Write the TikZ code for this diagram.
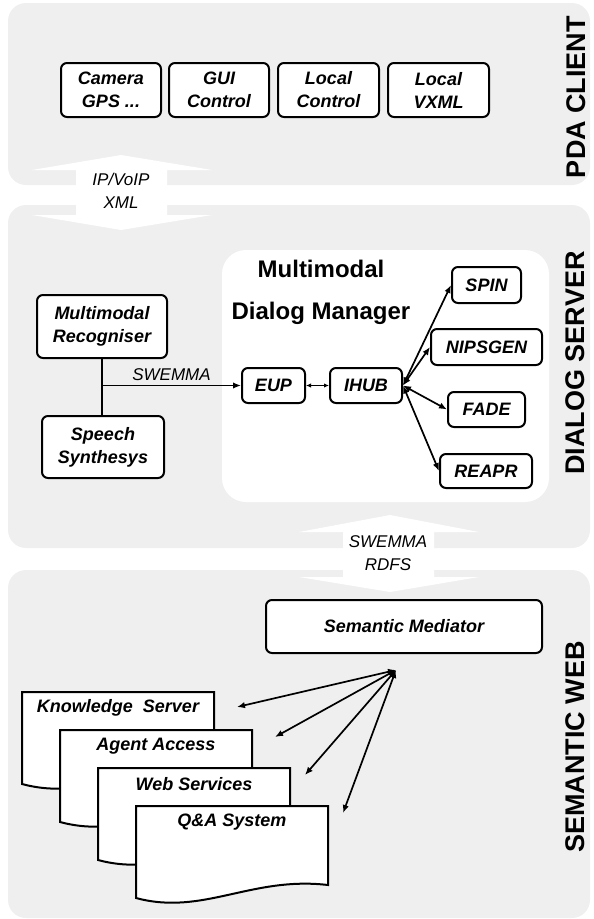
\documentclass[tikz,border=0pt]{standalone}
\usepackage{fontspec}
\setmainfont{Liberation Sans}
\usetikzlibrary{arrows.meta}
\definecolor{panelgray}{RGB}{239,239,239}

\begin{document}
\begin{tikzpicture}[x=1pt, y=-1pt, >={Latex[length=8pt, width=6.5pt]},
	tag/.style={font=\bfseries\itshape\fontsize{18}{23}\selectfont, align=center},
	unit/.style={tag, draw, line width=2pt, rounded corners=6pt, fill=white, inner sep=0pt},
	layer/.style={rotate=90, font=\bfseries\fontsize{27}{30}\selectfont},
	link/.style={line width=1.7pt},
	proto/.style={align=center, font=\itshape\fontsize{17}{23}\selectfont}]
	\useasboundingbox (0,0) rectangle (594,919);
	% the three layers
	\fill[panelgray, rounded corners=18pt] (8,3) rectangle (590,185);
	\fill[panelgray, rounded corners=18pt] (8,205) rectangle (590,548);
	\fill[panelgray, rounded corners=18pt] (8,570) rectangle (590,918);
	\node[layer] (pda) at (576,97) {PDA CLIENT};
	\node[layer] (dsrv) at (575,363) {DIALOG SERVER};
	\node[layer] (sweb) at (575,747) {SEMANTIC WEB};
	% block arrows between layers
	\fill[white] (121,155) -- (212,170) -- (167,170) -- (167,215) -- (212,215) -- (121,230) -- (32,215) -- (76,215) -- (76,170) -- (32,170) -- cycle;
	\node[proto] (ipxml) at (121,191) {IP/VoIP\\XML};
	\fill[white] (390,515) -- (479,532) -- (434,532) -- (434,577) -- (479,577) -- (390,592) -- (299,577) -- (343,577) -- (343,532) -- (299,532) -- cycle;
	\node[proto] (swrdfs) at (388,553) {SWEMMA\\RDFS};
	% PDA client
	\node[unit, minimum width=100pt, minimum height=54pt] (cam) at (111,90) {Camera\\GPS ...};
	\node[unit, minimum width=100pt, minimum height=54pt] (gui) at (219,90) {GUI\\Control};
	\node[unit, minimum width=101pt, minimum height=54pt] (lctl) at (328.5,90) {Local\\Control};
	\node[unit, minimum width=101pt, minimum height=54pt] (vxml) at (438.5,90) {Local\\VXML};
	% dialog server
	\fill[white, rounded corners=24pt] (222,250) rectangle (549,502);
	\node[align=center, font=\bfseries\fontsize{24}{42}\selectfont] (mdm) at (321,292) {Multimodal\\Dialog Manager};
	\node[unit, minimum width=130pt, minimum height=63pt] (rec) at (102,326.5) {Multimodal\\Recogniser};
	\node[unit, minimum width=122pt, minimum height=62pt] (syn) at (103,447) {Speech\\Synthesys};
	\node[unit, minimum width=63pt, minimum height=35pt] (eup) at (273.5,385.5) {EUP};
	\node[unit, minimum width=72pt, minimum height=35pt] (ihub) at (366,385.5) {IHUB};
	\node[unit, minimum width=69pt, minimum height=36pt] (spin) at (486.5,285) {SPIN};
	\node[unit, minimum width=111pt, minimum height=36pt] (nips) at (486.5,347) {NIPSGEN};
	\node[unit, minimum width=77pt, minimum height=35pt] (fade) at (486.5,409.5) {FADE};
	\node[unit, minimum width=92pt, minimum height=34pt] (reapr) at (486,471) {REAPR};
	\coordinate (junc) at (rec.south |- eup.west);
	\draw[link] (rec.south) -- (rec.south |- syn.north);
	\draw[link, ->] (junc) -- (eup.west) node[proto, midway, above=1pt] (swemma) {SWEMMA};
	\draw[line width=1.3pt, <->, >={Latex[length=5pt, width=4.5pt]}] (eup.east) -- (ihub.west);
	\foreach \t in {spin,nips,fade,reapr} {\draw[link, <->] (ihub.east) -- (\t.west);}
	% semantic web
	\node[unit, minimum width=276pt, minimum height=53pt] (med) at (404,626.5) {Semantic Mediator};
	\coordinate (hub) at (396,670);
	\foreach \i/\txt in {0/Knowledge~~Server, 1/Agent Access, 2/Web Services, 3/Q\&A System} {
		\pgfmathsetmacro{\xo}{22+38*\i}
		\pgfmathsetmacro{\yo}{692+38*\i}
		\draw[line width=2pt, fill=white] (\xo,\yo) -- (\xo+192,\yo) -- (\xo+192,\yo+79) .. controls (\xo+115,\yo+70) and (\xo+67,\yo+110) .. (\xo,\yo+92) -- cycle;
		\node[tag] (doc\i) at (\xo+96,\yo+16) {\txt};
	}
	\foreach \i/\ex/\ey in {0/237/707, 1/275/737, 2/305/775, 3/343/813} {
		\coordinate (end\i) at (\ex,\ey);
		\draw[link, <->] (hub) -- (end\i);
	}
\end{tikzpicture}
\end{document}
